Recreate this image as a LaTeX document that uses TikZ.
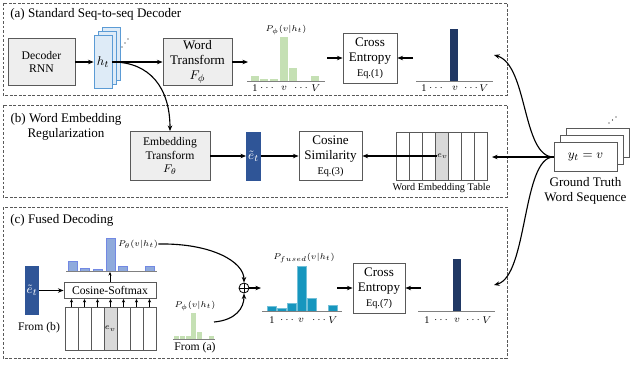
\documentclass[tikz,border=0pt]{standalone}
\usepackage{fontspec}
\setmainfont{Liberation Serif}
\usepackage{amsmath}
\usepackage{tikz}
\usetikzlibrary{arrows.meta, positioning}
\definecolor{boxgray}{RGB}{238, 238, 238}
\definecolor{edgegray}{RGB}{89, 89, 89}
\definecolor{htblue}{RGB}{222, 235, 247}
\definecolor{htedge}{RGB}{91, 155, 213}
\definecolor{phigreen}{RGB}{197, 224, 180}
\definecolor{onehotnavy}{RGB}{32, 56, 100}
\definecolor{embblue}{RGB}{47, 85, 151}
\definecolor{thetablue}{RGB}{143, 170, 220}
\definecolor{fusedteal}{RGB}{22, 150, 190}
\definecolor{evgray}{RGB}{217, 217, 217}
\newcommand{\bigtxt}{\fontsize{9.3}{10.7}\selectfont}
\newcommand{\midtxt}{\fontsize{8.3}{9.6}\selectfont}
\newcommand{\smalltxt}{\fontsize{7.3}{8.4}\selectfont}
\newcommand{\tinytxt}{\fontsize{6.5}{7.5}\selectfont}

\begin{document}
\begin{tikzpicture}[
  x=0.025cm, y=-0.025cm,
  panel/.style={draw=edgegray, dash pattern=on 2pt off 1.2pt, line width=0.6pt},
  graybox/.style={draw=edgegray, fill=boxgray, line width=0.6pt, align=center,
                  inner sep=1pt, font=\bigtxt},
  whitebox/.style={draw=edgegray, fill=white, line width=0.6pt, align=center,
                   inner sep=1pt, font=\bigtxt},
  htbox/.style={draw=htedge, fill=htblue, line width=0.5pt, minimum width=0.45cm,
                minimum height=1.325cm, inner sep=0pt, font=\bigtxt},
  gtbox/.style={draw=edgegray, fill=white, line width=0.6pt, minimum width=1.575cm,
                minimum height=0.725cm, inner sep=0pt, font=\bigtxt},
  embbar/.style={fill=embblue, text=white, minimum width=0.36cm,
                 minimum height=1.225cm, inner sep=0pt, font=\bigtxt},
  cell/.style={draw=edgegray, line width=0.5pt},
  axis/.style={draw=gray, line width=0.6pt},
  arrow/.style={-{Stealth[length=4pt, width=3.2pt]}, line width=0.8pt},
  smallarrow/.style={-{Stealth[length=2.5pt, width=2.2pt]}, line width=0.6pt},
  tick/.style={font=\smalltxt, inner sep=0pt},
  plabel/.style={font=\tinytxt, inner sep=0pt},
  lbl/.style={font=\bigtxt, inner sep=0pt, anchor=west}
]
\useasboundingbox (0,0) rectangle (640,378);

% Panels
\draw[panel] (3,3) rectangle (507,95);
\draw[panel] (3,105) rectangle (507,197);
\draw[panel] (3,207) rectangle (507,358);
\node[lbl] (labA) at (10,14) {(a) Standard Seq-to-seq Decoder};
\node[font=\bigtxt, align=center, inner sep=0pt] (labB) at (66,127)
  {(b) Word Embedding\\Regularization};
\node[lbl] (labC) at (10,220) {(c) Fused Decoding};

% (a) Decoder and hidden states
\node[graybox, font=\midtxt, minimum width=1.675cm, minimum height=1.175cm]
  (dec) at (41.5,62) {Decoder\\RNN};
\node[htbox] (ht3) at (111,54) {};
\node[htbox] (ht2) at (107,58) {};
\node[htbox] (ht) at (103,62) {$h_t$};
\foreach \d in {0,1,2}
  \fill (122+3*\d,47-4*\d) circle (0.5pt);
\node[graybox, minimum width=1.725cm, minimum height=1.15cm]
  (wordT) at (197.5,62) {Word\\Transform\\$F_\phi$};
\draw[arrow] (dec) -- (ht);
\draw[arrow] (ht) -- (wordT);

% (a) Word distribution P_phi
\coordinate (histA) at (248,62);
\draw[arrow] (wordT) -- (histA);
\foreach \x/\t in {251/76, 260/79, 270/79, 280/37, 289/68, 311/76}
  \fill[phigreen] (\x,81) rectangle (\x+8,\t);
\draw[axis] (247,81) -- (325,81);
\node[plabel] (pphiA) at (286,30) {$P_\phi(v|h_t)$};
\foreach \x/\s [count=\k] in {255/1, 268/$\cdots$, 284/$v$, 302/$\cdots$, 316/$V$}
  \node[tick] (tA\k) at (\x,88) {\s};

% (a) Cross entropy and one-hot target
\node[whitebox, minimum width=1.35cm, minimum height=1.25cm]
  (ceA) at (370,58) {Cross\\Entropy\\{\smalltxt Eq.(1)}};
\coordinate (histAout) at (327,58);
\coordinate (oneA) at (413,58);
\draw[arrow] (histAout) -- (ceA);
\draw[arrow] (oneA) -- (ceA);
\fill[onehotnavy] (450,81) rectangle (458,29);
\draw[axis] (416,81) -- (493,81);
\foreach \x/\s [count=\k] in {424/1, 437/$\cdots$, 455/$v$, 472/$\cdots$, 484/$V$}
  \node[tick] (tB\k) at (\x,88) {\s};
\coordinate (oneAin) at (494,55);

% (b) Embedding regularization
\node[graybox, font=\midtxt, minimum width=2.0cm, minimum height=1.225cm]
  (embT) at (170,156) {Embedding\\Transform\\$F_\theta$};
\node[embbar] (etB) at (253.5,156) {$\tilde{e}_t$};
\node[whitebox, minimum width=1.575cm, minimum height=1.225cm]
  (cosSim) at (330.5,156) {Cosine\\Similarity\\{\smalltxt Eq.(3)}};
\draw[arrow] (ht.east) .. controls (150,62) and (170,88) .. (embT.north);
\draw[arrow] (embT) -- (etB);
\draw[arrow] (etB) -- (cosSim);

% (b) Word embedding table
\foreach \i in {0,...,6}
  \draw[cell, fill=white] (396+13*\i,132) rectangle ++(13,48);
\draw[cell, fill=evgray] (435,132) rectangle ++(13,48);
\node[plabel] (evB) at (442.5,156) {$e_v$};
\node[font=\smalltxt] (tabB) at (441.5,188) {Word Embedding Table};
\draw[arrow] (evB.west) -- (cosSim);

% Ground truth words
\node[gtbox] (gt3) at (598,143) {};
\node[gtbox] (gt2) at (592,150) {};
\node[gtbox] (gt) at (585.5,157) {$y_t = v$};
\foreach \d in {0,1,2}
  \fill (609+3.5*\d,123-3*\d) circle (0.5pt);
\node[font=\bigtxt, align=center, inner sep=0pt] (gtlab) at (585.5,190.5)
  {Ground Truth\\Word Sequence};
\coordinate (tabBin) at (492,157);
\coordinate (oneCin) at (494,285);
\draw[arrow] (gt.west) -- (tabBin);
\draw[arrow] (gt.west) .. controls (522,157) and (528,65) .. (oneAin);
\draw[arrow] (gt.west) .. controls (522,157) and (528,276) .. (oneCin);

% (c) Cosine-softmax over the embedding table
\node[embbar] (etC) at (32,290.5) {$\tilde{e}_t$};
\node[font=\midtxt, inner sep=0pt] (fromB) at (39,328) {From (b)};
\node[whitebox, font=\midtxt, minimum width=2.3cm, minimum height=0.4cm]
  (cosSm) at (110,290.5) {Cosine-Softmax};
\draw[arrow] (etC) -- (cosSm);
\foreach \i in {0,...,6}
  \draw[cell, fill=white] (65+13*\i,307) rectangle ++(13,43);
\draw[cell, fill=evgray] (104,307) rectangle ++(13,43);
\node[plabel] (evC) at (110.5,328.5) {$e_v$};
\foreach \i in {0,...,6} {
  \coordinate (colC\i) at (71.5+13*\i,307);
  \draw[smallarrow] (colC\i) -- (colC\i |- cosSm.south);
}

% (c) P_theta
\coordinate (histTh) at (110,272);
\draw[smallarrow] (cosSm) -- (histTh);
\foreach \x/\t in {68/261, 80/268, 93/269, 106/238, 118/266, 145/266}
  \filldraw[fill=thetablue, draw=thetablue!80!blue, line width=0.3pt]
    (\x,271) rectangle (\x+9,\t);
\draw[axis] (66,271) -- (157,271);
\node[plabel] (pth) at (138,244) {$P_\theta(v|h_t)$};

% (c) P_phi from (a)
\foreach \x/\t in {174/336, 180/336, 186/336, 191/313, 197/332, 209/336}
  \fill[phigreen] (\x,339) rectangle (\x+5,\t);
\draw[axis] (173,339) -- (215,339);
\node[plabel] (pphiC) at (195,306) {$P_\phi(v|h_t)$};
\node[font=\midtxt, inner sep=0pt] (fromA) at (195,348) {From (a)};
\coordinate (phiCout) at (214,322);

% (c) Fusion
\node[circle, draw, line width=0.6pt, minimum size=0.25cm, inner sep=0pt]
  (oplus) at (244,288) {};
\draw[line width=0.6pt] (oplus.north) -- (oplus.south);
\draw[line width=0.6pt] (oplus.west) -- (oplus.east);
\draw[arrow] (pth.east) .. controls (212,243) and (244,262) .. (oplus.north);
\draw[arrow] (phiCout) .. controls (236,320) and (244,308) .. (oplus.south);
\coordinate (fuIn) at (261,288);
\draw[arrow] (oplus) -- (fuIn);
\foreach \x/\t in {267/306, 277/308, 287/303, 297/266, 307/298, 328/305}
  \filldraw[fill=fusedteal, draw=fusedteal!60!white, line width=0.3pt]
    (\x,311) rectangle (\x+9,\t);
\draw[axis] (262,311) -- (342,311);
\node[plabel] (pfu) at (304,258) {$P_{fused}(v|h_t)$};
\foreach \x/\s [count=\k] in {272/1, 288/$\cdots$, 301/$v$, 320/$\cdots$, 333/$V$}
  \node[tick] (tC\k) at (\x,320) {\s};

% (c) Cross entropy and one-hot target
\node[whitebox, minimum width=1.3cm, minimum height=1.25cm]
  (ceC) at (379,288) {Cross\\Entropy\\{\smalltxt Eq.(7)}};
\coordinate (fuOut) at (337,288);
\coordinate (oneC) at (421,288);
\draw[arrow] (fuOut) -- (ceC);
\draw[arrow] (oneC) -- (ceC);
\fill[onehotnavy] (453,311) rectangle (461,259);
\draw[axis] (418,311) -- (495,311);
\foreach \x/\s [count=\k] in {427/1, 442/$\cdots$, 457/$v$, 474/$\cdots$, 487/$V$}
  \node[tick] (tD\k) at (\x,320) {\s};

\end{tikzpicture}
\end{document}
